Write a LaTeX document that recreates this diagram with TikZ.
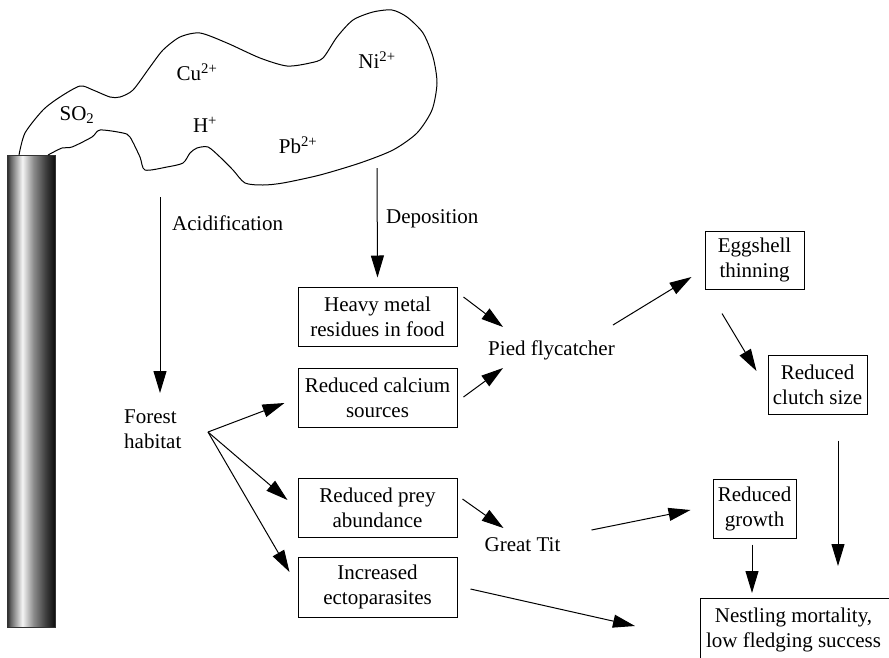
\documentclass[tikz,border=0pt]{standalone}
\usepackage{fontspec}
\setmainfont{Liberation Serif}
\usetikzlibrary{arrows.meta}

% metallic look for the smoke stack (the path is fitted to the 25bp--75bp band)
\pgfdeclarehorizontalshading{stackshade}{100bp}{%
  color(0bp)=(black!85); color(25bp)=(black!85); color(29bp)=(black!60);
  color(41bp)=(black!4); color(52.5bp)=(black!45); color(65bp)=(black!75);
  color(75bp)=(black!95); color(100bp)=(black!95)}

\newcommand\diagfont{\fontsize{21}{25}\selectfont}

\tikzset{
  box/.style={draw, line width=1pt, minimum height=59pt, align=center, inner sep=0pt, font=\diagfont},
  lbl/.style={align=center, inner sep=0pt, font=\diagfont},
  arr/.style={line width=1pt, -{Triangle[length=22pt,width=13pt]}},
}

\begin{document}
\begin{tikzpicture}[x=1pt, y=-1pt]
\useasboundingbox (0,0) rectangle (889,657);
\clip (0,0) rectangle (889,657);

% smoke stack
\shade[shading=stackshade] (7,155) rectangle (55,627);
\draw[line width=0.8pt, black!80] (7,155) rectangle (55,627);

% emission plume
\draw[line width=1pt] plot[smooth, tension=0.45] coordinates {
  (19,155) (25,133) (43,110) (60,97) (80,86) (93,90) (110,97) (120,97)
  (133,90) (150,67) (163,50) (180,37) (200,33) (227,43) (260,58) (287,66)
  (310,63) (323,58) (337,37) (353,20) (373,12) (392,10) (407,17) (423,33)
  (433,57) (437,83) (432,110) (417,133) (393,150) (360,163) (320,175)
  (283,183) (263,185) (245,183) (233,170) (220,157) (208,147) (197,148)
  (190,153) (183,163) (167,167) (145,170) (140,157) (130,137) (123,133)
  (100,130) (92,137) (72,147) (62,148) (48,155)};

\node[lbl] (so2) at (77,115) {SO\textsubscript{2}};
\node[lbl] (cu) at (197,72) {Cu\textsuperscript{2+}};
\node[lbl] (ni) at (377,60) {Ni\textsuperscript{2+}};
\node[lbl] (hplus) at (205,125) {H\textsuperscript{+}};
\node[lbl] (pb) at (298,145) {Pb\textsuperscript{2+}};

% boxes
\node[box, minimum width=159pt] (heavy) at (377.5,316.5) {Heavy metal\\residues in food};
\node[box, minimum width=159pt] (calcium) at (377.5,397.5) {Reduced calcium\\sources};
\node[box, minimum width=159pt] (prey) at (377.5,507.5) {Reduced prey\\abundance};
\node[box, minimum width=159pt, minimum height=60pt] (ecto) at (377.5,587) {Increased\\ectoparasites};
\node[box, minimum width=99pt, minimum height=58pt] (egg) at (754.5,260) {Eggshell\\thinning};
\node[box, minimum width=99pt] (clutch) at (817.5,384.5) {Reduced\\clutch size};
\node[box, minimum width=83pt] (growth) at (754.5,508.5) {Reduced\\growth};
\node[draw, line width=1pt, minimum width=200pt, minimum height=70pt, inner sep=0pt, anchor=north west] (nest) at (700,598) {};
\node[lbl] (nesttext) at (793.5,630) {Nestling mortality,\\low fledging success};

% plain labels
\node[lbl, align=left, anchor=west] (forest) at (124,429) {Forest\\habitat};
\node[lbl] (pied) at (551.5,350) {Pied flycatcher};
\node[lbl] (gtit) at (522.5,545) {Great Tit};
\node[lbl, anchor=west] (acidlbl) at (172,223) {Acidification};
\node[lbl, anchor=west] (deplbl) at (386,219) {Deposition};

\coordinate (acidtop) at (160,197);
\coordinate (acidend) at (160,393);
\coordinate (drop) at (377,168);
\coordinate (fork) at (208,432);

% connectors
\draw[arr] (acidtop) -- (acidend);
\draw[arr] (drop) -- ([yshift=9pt]heavy.north);

\draw[arr] ([xshift=6pt,yshift=19.5pt]heavy.east) -- ([xshift=15pt,yshift=23pt]pied.west);
\draw[arr] ([xshift=6pt,yshift=0.5pt]calcium.east) -- ([xshift=15pt,yshift=-18pt]pied.west);
\draw[arr] ([xshift=-2pt,yshift=25pt]pied.east) -- ([xshift=-13pt,yshift=-17pt]egg.west);
\draw[arr] ([xshift=-32.5pt,yshift=-24pt]egg.south) -- ([xshift=-11pt,yshift=13.5pt]clutch.west);
\draw[arr] ([xshift=20.5pt,yshift=-26pt]clutch.south) -- ([xshift=138pt,yshift=32pt]nest.north west);

\draw[arr] (fork) -- ([xshift=-13pt,yshift=-5.5pt]calcium.west);
\draw[arr] (fork) -- ([xshift=-10pt,yshift=7.5pt]prey.west);
\draw[arr] (fork) -- ([xshift=-8pt,yshift=15pt]ecto.west);

\draw[arr] ([xshift=5pt,yshift=8.5pt]prey.east) -- ([xshift=19pt,yshift=17pt]gtit.west);
\draw[arr] ([xshift=31pt,yshift=15pt]gtit.east) -- ([xshift=-22pt,yshift=-1.5pt]growth.west);
\draw[arr] ([xshift=-2.5pt,yshift=-6pt]growth.south) -- ([xshift=52pt,yshift=5pt]nest.north west);
\draw[arr] ([xshift=13pt,yshift=-2pt]ecto.east) -- ([xshift=-65pt,yshift=-28pt]nest.north west);
\end{tikzpicture}
\end{document}
